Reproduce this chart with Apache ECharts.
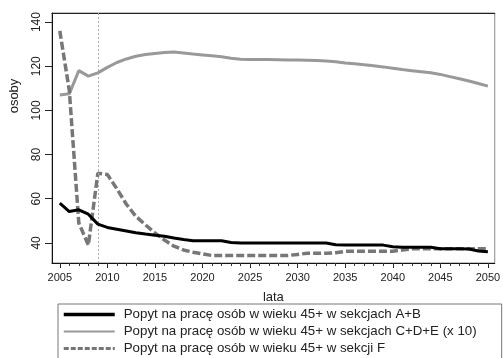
<!DOCTYPE html>
<html><head><meta charset="utf-8">
<script src="https://cdn.jsdelivr.net/npm/echarts@6/dist/echarts.min.js"></script>
<style>html,body{margin:0;padding:0;background:#fff}#c{width:503px;height:358px}</style>
</head><body><div id="c"></div>
<script>
const years = [];
for (let y = 2005; y <= 2050; y++) years.push(y);
const xTickLabels = [2005,2010,2015,2020,2025,2030,2035,2040,2045,2050];
const yTickLabels = [40,60,80,100,120,140];
const seriesNames = [
  'Popyt na pracę osób w wieku 45+ w sekcjach A+B',
  'Popyt na pracę osób w wieku 45+ w sekcjach C+D+E (x 10)',
  'Popyt na pracę osób w wieku 45+ w sekcji F'
];
const valuesAB = [58,54.2,55,53,48.5,47,46.2,45.4,44.6,44,43.5,43,42.2,41.5,41,41,41,41,40.2,40,40,40,40,40,40,40,40,40,40,39.2,39,39,39,39,39,38.3,38,38,38,38,37.4,37.3,37.3,37.2,36.3,36];
const valuesCDE = [107,107.5,118,115.5,117,119.5,121.7,123.3,124.5,125.3,125.8,126.2,126.4,126,125.5,125.1,124.7,124.3,123.6,123.2,123,123,123,122.9,122.8,122.8,122.7,122.6,122.4,122,121.5,121.1,120.7,120.2,119.7,119.1,118.5,118,117.5,117,116.3,115.3,114.3,113.3,112.2,111];
const valuesF = [136,109,49,39,71.5,71,64.5,57.5,52,48.2,44.5,41.3,38.5,36.8,35.8,35,34.3,34.3,34.3,34.3,34.3,34.3,34.3,34.3,34.3,34.8,35.3,35.3,35.3,35.5,36.2,36.2,36.2,36.2,36.2,36.2,36.8,37.3,37.3,37.3,37.3,37.3,37.3,37.3,37.3,37.3];
const markYear = 2009;

const pair = arr => years.map((y, i) => [y, arr[i]]);
const font = 'Liberation Sans, Arial, sans-serif';
const xMin = 2004.18, xMax = 2050.72;

const chart = echarts.init(document.getElementById('c'), null, {renderer: 'canvas'});
chart.setOption({
  animation: false,
  backgroundColor: '#fff',
  grid: {left: 44, top: 13, right: 6, bottom: 95, show: true, borderColor: '#8a8a8a', borderWidth: 1, backgroundColor: '#fff'},
  xAxis: [{
    type: 'value', min: xMin, max: xMax,
    name: 'lata', nameLocation: 'middle', nameGap: 28,
    nameTextStyle: {fontFamily: font, fontSize: 13, color: '#222'},
    axisLine: {lineStyle: {color: '#111', width: 1}},
    axisTick: {customValues: xTickLabels, length: 5, lineStyle: {color: '#222'}},
    axisLabel: {customValues: xTickLabels, formatter: v => String(v), fontFamily: font, fontSize: 11, color: '#222', margin: 9},
    splitLine: {show: false}
  }, {
    type: 'value', position: 'bottom', min: xMin, max: xMax,
    axisLine: {show: false},
    axisTick: {customValues: years, length: 3, lineStyle: {color: '#333'}},
    axisLabel: {show: false}, splitLine: {show: false}
  }, {
    type: 'value', position: 'top', min: xMin, max: xMax,
    axisLine: {show: true, lineStyle: {color: '#222', width: 1}},
    axisTick: {show: false}, axisLabel: {show: false}, splitLine: {show: false}
  }],
  yAxis: {
    type: 'value', min: 30.9, max: 144.1,
    name: 'osoby', nameLocation: 'middle', nameGap: 31, nameRotate: 90,
    nameTextStyle: {fontFamily: font, fontSize: 13, color: '#222', padding: [0, 0, 0, 84]},
    axisLine: {show: true, lineStyle: {color: '#111', width: 1}},
    axisTick: {show: true, customValues: yTickLabels, length: 7, lineStyle: {color: '#222'}},
    axisLabel: {customValues: yTickLabels, rotate: 90, fontFamily: font, fontSize: 12, color: '#222', margin: 9},
    splitLine: {show: false}
  },
  legend: {
    orient: 'vertical', left: 58, top: 304, height: 300,
    itemWidth: 51, itemHeight: 14, itemGap: 4,
    padding: [4, 25, 30, 4],
    borderColor: '#777', borderWidth: 1, backgroundColor: '#fff',
    itemStyle: {color: 'rgba(0,0,0,0)', borderColor: 'rgba(0,0,0,0)', borderWidth: 0},
    textStyle: {fontFamily: font, fontSize: 13.3, color: '#222', padding: [0, 0, 0, 4]},
    data: [
      {name: seriesNames[0], lineStyle: {width: 3.5}},
      {name: seriesNames[1], lineStyle: {width: 2}},
      {name: seriesNames[2], lineStyle: {width: 3, type: [5, 2]}}
    ]
  },
  series: [
    {name: seriesNames[0], type: 'line', data: pair(valuesAB), symbol: 'none', z: 5,
     lineStyle: {color: '#000', width: 3}, itemStyle: {color: '#000'},
     markLine: {silent: true, symbol: 'none', label: {show: false},
       lineStyle: {color: '#aaa', width: 1, type: [2, 2]}, data: [{xAxis: markYear}]}},
    {name: seriesNames[1], type: 'line', data: pair(valuesCDE), symbol: 'none', z: 3,
     lineStyle: {color: '#999', width: 3}, itemStyle: {color: '#999'}},
    {name: seriesNames[2], type: 'line', data: pair(valuesF), symbol: 'none', z: 4,
     lineStyle: {color: '#777', width: 3.5, type: [8, 3]}, itemStyle: {color: '#777'}}
  ]
});
</script></body></html>
